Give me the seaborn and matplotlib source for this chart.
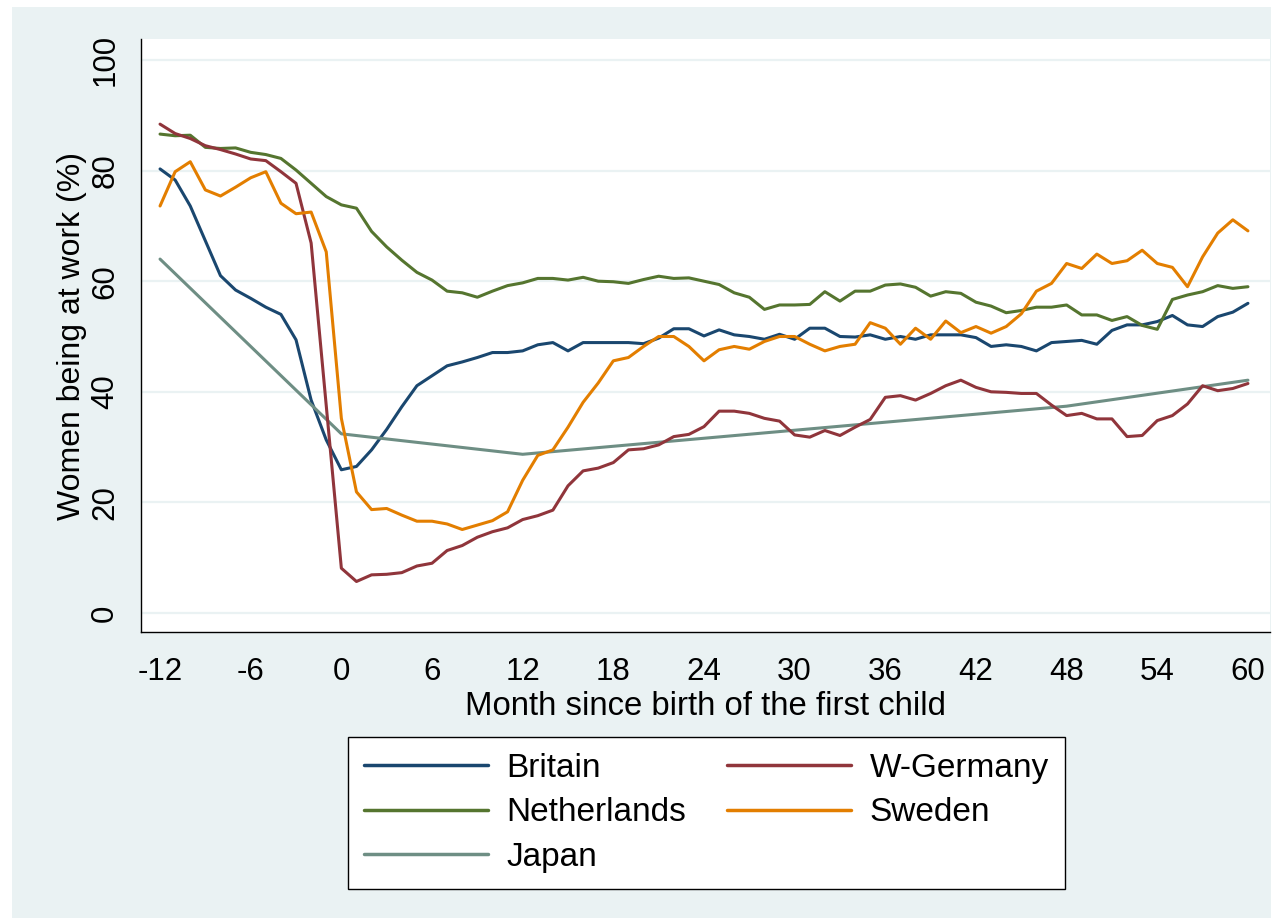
import matplotlib
matplotlib.use("Agg")
import matplotlib.pyplot as plt
import matplotlib.patches as mpatches
import seaborn as sns
import pandas as pd

# values (percent of women at work)
months = list(range(-12, 61))

britain = [80.3, 78.3, 73.6, 67.3, 61.0, 58.4, 56.9, 55.3, 54.0, 49.4, 38.5, 31.3,
           25.9, 26.5, 29.5, 33.2, 37.3, 41.1, 42.9, 44.7, 45.4, 46.2, 47.1, 47.1,
           47.4, 48.5, 48.9, 47.4, 48.9, 48.9, 48.9, 48.9, 48.7, 49.7, 51.4, 51.4,
           50.1, 51.2, 50.3, 50.0, 49.5, 50.4, 49.5, 51.5, 51.5, 50.0, 49.9, 50.3,
           49.5, 50.0, 49.5, 50.3, 50.3, 50.3, 49.8, 48.2, 48.5, 48.2, 47.4, 48.9,
           49.1, 49.3, 48.6, 51.1, 52.1, 52.1, 52.7, 53.8, 52.1, 51.8, 53.6, 54.4, 56.0]

w_germany = [88.4, 86.7, 85.8, 84.5, 83.8, 83.0, 82.1, 81.8, 79.8, 77.7, 66.9, 37.5,
             8.1, 5.7, 6.9, 7.0, 7.3, 8.5, 9.0, 11.3, 12.2, 13.7, 14.7, 15.4,
             16.9, 17.6, 18.6, 23.0, 25.7, 26.2, 27.2, 29.5, 29.7, 30.4, 31.9, 32.3,
             33.7, 36.5, 36.5, 36.1, 35.2, 34.7, 32.2, 31.8, 33.0, 32.1, 33.6, 35.0,
             39.0, 39.3, 38.5, 39.7, 41.1, 42.1, 40.8, 40.0, 39.9, 39.7, 39.7, 37.6,
             35.7, 36.1, 35.1, 35.1, 31.9, 32.1, 34.8, 35.7, 37.8, 41.1, 40.2, 40.6, 41.5]

netherlands = [86.6, 86.3, 86.4, 84.2, 84.0, 84.1, 83.3, 82.9, 82.2, 80.1, 77.7, 75.3,
               73.8, 73.2, 69.0, 66.2, 63.8, 61.6, 60.2, 58.2, 57.9, 57.1, 58.2, 59.2,
               59.7, 60.5, 60.5, 60.2, 60.7, 60.0, 59.9, 59.6, 60.3, 60.9, 60.5, 60.6,
               60.0, 59.4, 57.9, 57.1, 54.9, 55.7, 55.7, 55.8, 58.1, 56.4, 58.2, 58.2,
               59.3, 59.5, 58.9, 57.3, 58.1, 57.8, 56.2, 55.5, 54.3, 54.7, 55.3, 55.3,
               55.7, 53.9, 53.9, 52.9, 53.6, 52.0, 51.3, 56.7, 57.5, 58.1, 59.2, 58.7, 59.0]

sweden = [73.6, 79.8, 81.6, 76.5, 75.4, 77.0, 78.7, 79.8, 74.1, 72.2, 72.5, 65.3,
          35.2, 21.9, 18.7, 18.9, 17.7, 16.6, 16.6, 16.1, 15.1, 15.9, 16.7, 18.3,
          24.0, 28.5, 29.5, 33.6, 38.1, 41.6, 45.6, 46.2, 48.2, 50.0, 50.0, 48.2,
          45.6, 47.6, 48.2, 47.7, 49.1, 50.0, 50.0, 48.6, 47.4, 48.2, 48.6, 52.5,
          51.5, 48.6, 51.5, 49.5, 52.8, 50.7, 51.8, 50.6, 51.8, 54.1, 58.2, 59.6,
          63.2, 62.3, 64.9, 63.2, 63.7, 65.6, 63.2, 62.5, 59.0, 64.4, 68.7, 71.1, 69.1]

japan_months = [-12, 0, 12, 48, 60]
japan = [64.0, 32.4, 28.7, 37.4, 42.1]

x_ticks = list(range(-12, 61, 6))
y_ticks = [0, 20, 40, 60, 80, 100]

colors = {"Britain": "#1a476f", "W-Germany": "#90353b", "Netherlands": "#55752f",
          "Sweden": "#e37e00", "Japan": "#6e8e84"}

frames = []
for name, vals in [("Britain", britain), ("W-Germany", w_germany),
                   ("Netherlands", netherlands), ("Sweden", sweden)]:
    frames.append(pd.DataFrame({"month": months, "value": vals, "country": name}))
frames.append(pd.DataFrame({"month": japan_months, "value": japan, "country": "Japan"}))
df = pd.concat(frames, ignore_index=True)

sns.set_style("white")
plt.rcParams["font.family"] = ["Liberation Sans", "DejaVu Sans"]
plt.rcParams["text.color"] = "black"
plt.rcParams["axes.labelcolor"] = "black"
bg = "#eaf2f3"

fig = plt.figure(figsize=(12.84, 9.23), dpi=100, facecolor="white")
fig.patches.append(mpatches.Rectangle((12 / 1284, 5 / 923), 1259 / 1284, 911 / 923,
                                      transform=fig.transFigure, facecolor=bg,
                                      edgecolor="none", zorder=-10))
ax = fig.add_axes([141 / 1284, 1 - 631.7 / 923, 1129 / 1284, (631.7 - 39.3) / 923])
ax.set_facecolor("white")

hue_order = ["Britain", "Netherlands", "Japan", "W-Germany", "Sweden"]
sns.lineplot(data=df, x="month", y="value", hue="country", hue_order=hue_order,
             palette=colors, linewidth=2.2, ax=ax, sort=True, estimator=None)

ax.set_xlim(-13.26, 61.46)
ax.set_ylim(-3.38, 103.74)
ax.set_xticks(x_ticks)
ax.set_xticklabels([str(t) for t in x_ticks])
ax.set_yticks(y_ticks)
ax.set_yticklabels([str(t) for t in y_ticks], rotation=90, va="center")
for y in y_ticks:
    ax.axhline(y, color=bg, linewidth=1.6, zorder=0)

for s in ["top", "right"]:
    ax.spines[s].set_visible(False)
for s in ["left", "bottom"]:
    ax.spines[s].set_color("black")
    ax.spines[s].set_linewidth(1.0)
ax.tick_params(axis="both", direction="out", length=9.5, width=0.9, color="black",
               labelsize=22.5, labelcolor="black")
ax.tick_params(axis="x", pad=9)
ax.tick_params(axis="y", pad=5.5)
ax.set_xlabel("Month since birth of the first child", fontsize=23.7, labelpad=2.5)
ax.set_ylabel("Women being at work (%)", fontsize=23, labelpad=2)

handles, labels = ax.get_legend_handles_labels()
ax.get_legend().remove()
leg = fig.legend(handles, labels, ncol=2, loc="upper left",
                 bbox_to_anchor=(347.7 / 1284, 1 - 736.7 / 923), borderaxespad=0,
                 fontsize=24, frameon=True, fancybox=False, edgecolor="black",
                 framealpha=1, handlelength=3.72, handletextpad=0.57,
                 columnspacing=1.2, labelspacing=0.41, borderpad=0.48)
leg.get_frame().set_linewidth(1.0)
leg.get_frame().set_facecolor("white")
for line in leg.get_lines():
    line.set_linewidth(2.5)

fig.savefig("out.png", dpi=100, facecolor=fig.get_facecolor())
